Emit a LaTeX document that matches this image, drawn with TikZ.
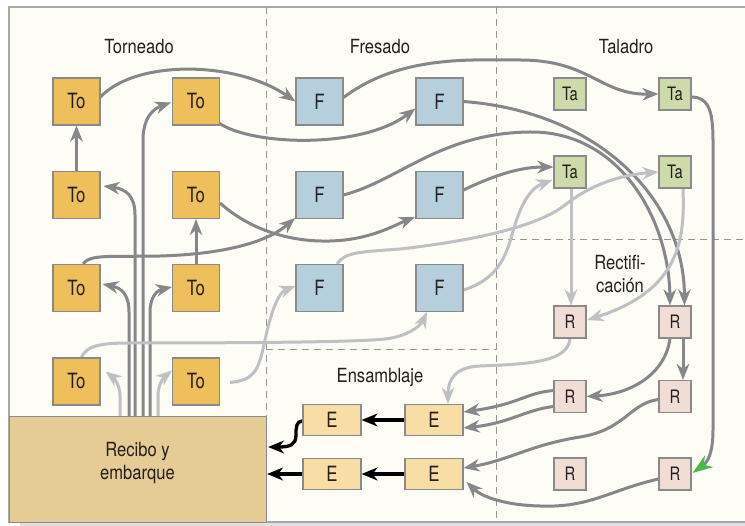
\documentclass[tikz,border=0pt]{standalone}
\usepackage{fontspec}
\setmainfont[FakeStretch=0.85]{TeX Gyre Heros}
\newfontfamily\boxfont[FakeStretch=0.8]{TeX Gyre Heros}
\usetikzlibrary{arrows.meta,calc}
\pgfdeclarelayer{back}
\pgfdeclarelayer{conn}
\pgfsetlayers{back,conn,main}
\definecolor{bgc}{RGB}{253,253,246}
\definecolor{framec}{RGB}{168,168,168}
\definecolor{shadowc}{RGB}{224,224,226}
\definecolor{dashc}{RGB}{150,150,150}
\definecolor{dk}{RGB}{133,135,138}
\definecolor{lt}{RGB}{190,192,196}
\definecolor{boxline}{RGB}{138,138,138}
\definecolor{tocol}{RGB}{238,191,91}
\definecolor{fcol}{RGB}{182,207,220}
\definecolor{tacol}{RGB}{205,218,170}
\definecolor{rcol}{RGB}{242,221,213}
\definecolor{ecol}{RGB}{248,221,165}
\definecolor{reccol}{RGB}{229,204,148}
\definecolor{txt}{RGB}{35,31,32}
\definecolor{grn}{RGB}{76,184,72}
\begin{document}
\begin{tikzpicture}[x=1pt,y=-1pt,
 bx/.style={draw=boxline,line width=1.1pt,inner sep=0pt,text=txt,font=\boxfont\fontsize{21}{24}\selectfont},
 tob/.style={bx,fill=tocol,minimum size=47pt},
 fbx/.style={bx,fill=fcol,minimum size=47pt},
 tabx/.style={bx,fill=tacol,minimum size=32pt,font=\boxfont\fontsize{18.5}{21}\selectfont},
 rbx/.style={bx,fill=rcol,minimum size=32pt,font=\boxfont\fontsize{18.5}{21}\selectfont},
 ebx/.style={bx,fill=ecol,minimum width=58pt,minimum height=31.5pt},
 lbl/.style={text=txt,font=\fontsize{19.5}{23}\selectfont,align=center,inner sep=0pt},
 dkl/.style={draw=dk,line width=3pt},
 ltl/.style={draw=lt,line width=3pt},
 dka/.style={dkl,-{Stealth[length=16pt,width=12.5pt,inset=5pt]}},
 lta/.style={ltl,-{Stealth[length=16pt,width=12.5pt,inset=5pt]}},
 bka/.style={draw=black,line width=3.3pt,-{Stealth[length=16pt,width=13pt,inset=5pt]}},
 dashl/.style={draw=dashc,line width=0.9pt,dash pattern=on 7pt off 5pt}
]
\useasboundingbox (0,0) rectangle (745,526);
\begin{pgfonlayer}{back}
\fill[shadowc] (20,522) rectangle (745,526);
\fill[bgc] (9,7) rectangle (750,522);
\draw[framec,line width=1.5pt] (750,7) -- (9,7) -- (9,522) -- (750,522);
\draw[dashl] (266,7) -- (266,522);
\draw[dashl] (496,7) -- (496,522);
\draw[dashl] (266,349) -- (496,349);
\draw[dashl] (496,239) -- (750,239);
\end{pgfonlayer}

% labels
\node[lbl] (ttor) at (139,47) {Torneado};
\node[lbl] (tfre) at (380,47) {Fresado};
\node[lbl] (ttal) at (626,47) {Taladro};
\node[lbl] (trect) at (620,274) {Rectifi-\\cación};
\node[lbl] (tens) at (380,378) {Ensamblaje};

% recibo
\node[draw=boxline,line width=1.1pt,fill=reccol,minimum width=257pt,minimum height=106pt,inner sep=0pt,anchor=north west] (rec) at (9,416) {};
\node[lbl] (reclbl) at (137.5,463) {Recibo y\\embarque};

% Torneado
\node[tob] (to11) at (76.5,101.5) {To};
\node[tob] (to12) at (196,101.5) {To};
\node[tob] (to21) at (76.5,195) {To};
\node[tob] (to22) at (196,195) {To};
\node[tob] (to31) at (76.5,288) {To};
\node[tob] (to32) at (196,288) {To};
\node[tob] (to41) at (76.5,381.5) {To};
\node[tob] (to42) at (196,381.5) {To};
% Fresado
\node[fbx] (f11) at (319.5,101.5) {F};
\node[fbx] (f12) at (439.5,101.5) {F};
\node[fbx] (f21) at (319.5,195) {F};
\node[fbx] (f22) at (439.5,195) {F};
\node[fbx] (f31) at (319.5,288) {F};
\node[fbx] (f32) at (439.5,288) {F};
% Taladro
\node[tabx] (ta11) at (570,94) {Ta};
\node[tabx] (ta12) at (675,94) {Ta};
\node[tabx] (ta21) at (570,172) {Ta};
\node[tabx] (ta22) at (675,172) {Ta};
% Rectificacion
\node[rbx] (r11) at (570,322) {R};
\node[rbx] (r12) at (675,322) {R};
\node[rbx] (r21) at (570,396.5) {R};
\node[rbx] (r22) at (675,396.5) {R};
\node[rbx] (r31) at (570,474) {R};
\node[rbx] (r32) at (675,474) {R};
% Ensamblaje
\node[ebx] (e11) at (332,420) {E};
\node[ebx] (e12) at (434,420) {E};
\node[ebx] (e21) at (332,474) {E};
\node[ebx] (e22) at (434,474) {E};

\begin{pgfonlayer}{conn}
% bundle from recibo
\draw[lta] ($(rec.north west)+(111,0)$) -- (120,395) .. controls (120,386) and (114,378) .. ($(to41.east)+(5,-10)$);
\draw[dka] ($(rec.north west)+(120,0)$) -- (129,312) .. controls (129,294) and (121,288) .. ($(to31.east)+(2,-4)$);
\draw[dka] ($(rec.north west)+(126,0)$) -- (135,215) .. controls (135,196) and (126,189) .. ($(to21.east)+(3,-9)$);
\draw[dka] ($(rec.north west)+(134,0)$) -- (143,140) .. controls (143,116) and (155,108) .. ($(to12.west)+(-1,1)$);
\draw[dka] ($(rec.north west)+(141,0)$) -- (150,312) .. controls (150,296) and (158,290) .. ($(to32.west)+(0,-1)$);
\draw[lta] ($(rec.north west)+(149,0)$) -- (158,395) .. controls (158,386) and (163,378) .. ($(to42.west)+(0,-11)$);
% straight ups
\draw[dka] (to21.north) -- (to11.south);
\draw[dka] (to32.north) -- (to22.south);
% Torneado -> Fresado
\draw[dka] ($(to11.east)+(0,-4.5)$) .. controls (135,60) and (235,60) .. (f11.west);
\draw[dka] ($(to12)+(23,21.5)$) .. controls (250,145) and (360,150) .. ($(f12)+(-24,7)$);
\draw[dka] ($(to22.east)+(0,8)$) .. controls (250,230) and (290,242) .. (330,241) .. controls (370,240) and (395,225) .. ($(f22)+(-24.5,22)$);
\draw[dka] ($(to31.north)+(6.5,0)$) .. controls (90,254) and (110,257) .. (160,256) .. controls (230,254) and (270,240) .. ($(f21)+(-24.5,23)$);
\draw[lta] ($(to41.north)+(5,0)$) .. controls (86,346) and (100,343) .. (130,343) .. controls (250,343) and (360,342) .. (385,339) .. controls (405,337) and (420,327) .. ($(f32.south)+(-12.5,0)$);
\draw[lta] ($(to42.east)+(10,1)$) .. controls (255,380) and (258,370) .. (264,345) .. controls (272,305) and (280,292) .. ($(f31.west)+(0,-2)$);
% Fresado -> Taladro / Rectificacion
\draw[dka] ($(f11.east)+(0,-4)$) .. controls (400,55) and (470,60) .. (520,60) .. controls (590,60) and (600,95) .. (ta12.west);
\draw[dka] (f12.east) .. controls (600,112) and (684,200) .. ($(r12.north)+(9.5,0)$);
\draw[dka] (f21.east) .. controls (400,180) and (440,133) .. (530,132) .. controls (620,131) and (669,220) .. ($(r12.north)+(-5,0)$);
\draw[dka] ($(f22.east)+(0,-5)$) .. controls (495,175) and (520,167) .. ($(ta21.west)+(0,-5)$);
\draw[lta] ($(f31.north)+(17.5,0)$) .. controls (345,252) and (360,252) .. (400,249) .. controls (480,240) and (540,225) .. (565,205) .. controls (590,185) and (620,175) .. (ta22.west);
\draw[lta] ($(f32.east)+(0,2)$) .. controls (495,280) and (505,260) .. (512,235) .. controls (520,205) and (530,188) .. ($(ta21.west)+(-1,8)$);
% Taladro -> Rectificacion
\draw[dkl,-{Stealth[length=20pt,width=14pt,inset=6pt,color=grn]}] ($(ta12.east)+(0,3)$) .. controls (708,97) and (713,110) .. (713,140) -- (713,430) .. controls (713,452) and (708,462) .. ($(r32.east)+(1,-1)$);
\draw[lta] ($(ta21.south)+(1,0)$) -- ($(r11.north)+(1,0)$);
\draw[lta] ($(ta22.south)+(8,0)$) .. controls (685,240) and (680,290) .. ($(r11.east)+(1,-2)$);
% Rectificacion internal
\draw[dka] ($(r12.south)+(-5,0)$) .. controls (665,375) and (630,394) .. (r21.east);
\draw[dka] ($(r12.south)+(8,0)$) -- ($(r22.north)+(8,0)$);
% Rectificacion -> Ensamblaje
\draw[lta] (r11.south) .. controls (568,362) and (530,364) .. (480,366) .. controls (455,367) and (448,380) .. ($(e12.north)+(14,0)$);
\draw[dka] ($(r21.west)+(0,-6)$) .. controls (525,393) and (520,404) .. ($(e12.east)+(0,-8)$);
\draw[dka] ($(r21.west)+(0,10)$) .. controls (525,410) and (510,423) .. ($(e12.east)+(0,8)$);
\draw[dka] ($(r22.west)+(0,3)$) .. controls (630,403) and (625,430) .. (580,437) .. controls (530,445) and (510,460) .. ($(e22.east)+(0,-6)$);
\draw[dka] ($(r32.west)+(0,5)$) .. controls (610,490) and (590,508) .. (540,506) .. controls (500,505) and (480,495) .. ($(e22.east)+(3,8)$);
% Ensamblaje -> Recibo
\draw[bka] (e12.west) -- (e11.east);
\draw[bka] (e22.west) -- (e21.east);
\draw[bka] (e21.west) -- (e21.west -| rec.east);
\draw[bka] ($(e11.west)+(0,1)$) .. controls (296,421) and (296,428) .. (296,435) .. controls (296,445) and (290,447) .. ($(rec.north east)+(1,31)$);
\end{pgfonlayer}
\end{tikzpicture}
\end{document}
